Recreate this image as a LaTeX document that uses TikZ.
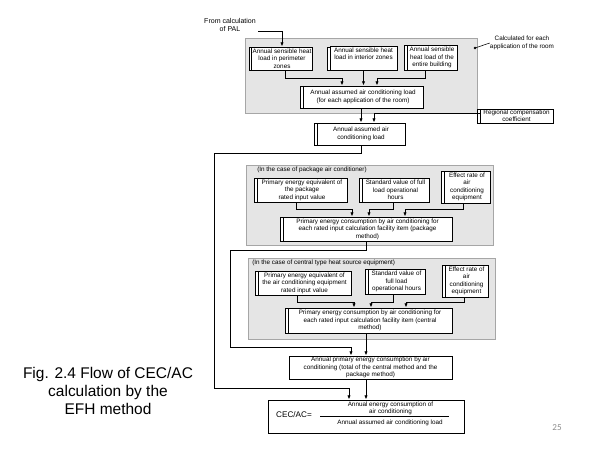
\documentclass[tikz,border=0pt]{standalone}
\usepackage{fontspec}
\setmainfont{Liberation Sans}
\newfontfamily\slidefont{Carlito}
\usetikzlibrary{arrows.meta,shadows}
\def\pxu{0.025cm}
\tikzset{
	box/.style={draw,fill=white,line width=0.7pt,align=center,inner sep=0.5pt,font=\fontsize{4.5}{5.3}\selectfont},
	stackbox/.style={box,copy shadow={shadow xshift=-1.8pt,shadow yshift=0pt,line width=0.6pt}},
	flow/.style={-{Latex[length=3pt,width=2.4pt]},line width=0.6pt},
	region/.style={fill=black!10,draw=black!35,line width=0.6pt,inner sep=0pt},
	note/.style={align=center,inner sep=0pt,font=\fontsize{4.5}{5.3}\selectfont}
}
\begin{document}
\begin{tikzpicture}[x=\pxu,y=-\pxu]
	\useasboundingbox (0,0) rectangle (600,450);
	\node[region,minimum width=232*\pxu,minimum height=75*\pxu] (reg1) at (361,75.5) {};
	\node[region,minimum width=247*\pxu,minimum height=80*\pxu] (reg2) at (369.5,205) {};
	\node[region,minimum width=247*\pxu,minimum height=81*\pxu] (reg3) at (371.5,298.5) {};
	\node[note,font=\fontsize{5}{5.8}\selectfont] (pal) at (230,25) {From calculation\\of PAL};
	\coordinate (palend) at (258,31);
	\node[note] (calcnote) at (522,43) {Calculated for each\\application of the room};
	\coordinate (dot) at (475,48);
	\fill (dot) circle (0.9pt);
	\draw[line width=0.4pt] (dot) -- (calcnote.west);
	\node[stackbox,minimum width=60*\pxu,minimum height=23*\pxu] (b1) at (282,58.5) {Annual sensible heat\\load in perimeter\\zones};
	\node[stackbox,minimum width=67*\pxu,minimum height=23*\pxu] (b2) at (363.5,58.5) {Annual sensible heat\\load in interior zones\\\strut};
	\node[stackbox,minimum width=50*\pxu,minimum height=25*\pxu] (b3) at (432,57.5) {Annual sensible\\heat load of the\\entire building};
	\node[stackbox,minimum width=120*\pxu,minimum height=22*\pxu] (b4) at (363,97) {Annual assumed air conditioning load\\(for each application of the room)};
	\node[stackbox,minimum width=73*\pxu,minimum height=14*\pxu] (regional) at (516.5,116) {Regional compensation\\coefficient};
	\node[stackbox,minimum width=88*\pxu,minimum height=22*\pxu] (b5) at (361,134) {Annual assumed air\\conditioning load};
	\coordinate (spine) at (366,0);
	\draw[flow] (palend) -| (b1.north);
	\draw[flow] ([xshift=3*\pxu]b1.south) -- ++(0,8) -| ([xshift=-21*\pxu]b4.north);
	\draw[flow] (b2.south) -- (b2.south |- b4.north);
	\draw[flow] ([xshift=-7*\pxu]b3.south) -- ++(0,8) -| ([xshift=14*\pxu]b4.north);
	\draw[flow] (b4.south -| b5.north) -- (b5.north);
	\draw[flow] ([yshift=3*\pxu]regional.west) -| ([xshift=13*\pxu]b5.north);
	\node[note,anchor=west] (lbl2) at (257,170) {(In the case of package air conditioner)};
	\node[stackbox,minimum width=90*\pxu,minimum height=24*\pxu] (p1) at (302,190) {Primary energy equivalent of\\the package\\rated input value};
	\node[stackbox,minimum width=67*\pxu,minimum height=24*\pxu] (p2) at (395.5,190) {Standard value of full\\load operational\\hours};
	\node[stackbox,minimum width=46*\pxu,minimum height=32*\pxu] (p3) at (467,187) {Effect rate of\\air\\conditioning\\equipment};
	\node[stackbox,minimum width=169*\pxu,minimum height=24*\pxu] (p4) at (367.5,229) {Primary energy consumption by air conditioning for\\each rated input calculation facility item (package\\method)};
	\draw[flow] ([xshift=-6*\pxu]p1.south) -- ++(0,7) -| ([xshift=-15.5*\pxu]p4.north);
	\draw[flow] ([xshift=-2.5*\pxu]p2.south) -- ++(0,7) -| ([xshift=1.5*\pxu]p4.north);
	\draw[flow] ([xshift=-4*\pxu]p3.south) -- ++(0,6) -| ([xshift=37.5*\pxu]p4.north);
	\node[note,anchor=west] (lbl3) at (252,263) {(In the case of central type heat source equipment)};
	\node[stackbox,minimum width=93*\pxu,minimum height=24*\pxu] (c1) at (304.5,283) {Primary energy equivalent of\\the air conditioning equipment\\rated input value};
	\node[stackbox,minimum width=57*\pxu,minimum height=25*\pxu] (c2) at (396.5,281.5) {Standard value of\\full load\\operational hours};
	\node[stackbox,minimum width=43*\pxu,minimum height=32*\pxu] (c3) at (466.5,281) {Effect rate of\\air\\conditioning\\equipment};
	\node[stackbox,minimum width=164*\pxu,minimum height=25*\pxu] (c4) at (370,320.5) {Primary energy consumption by air conditioning for\\each rated input calculation facility item (central\\method)};
	\draw[flow] ([xshift=-7.5*\pxu]c1.south) -- ++(0,7) -| ([xshift=-16*\pxu]c4.north);
	\draw[flow] ([xshift=-3.5*\pxu]c2.south) -- ++(0,8) -| ([xshift=1*\pxu]c4.north);
	\draw[flow] ([xshift=-2.5*\pxu]c3.south) -- ++(0,5) -| ([xshift=36*\pxu]c4.north);
	\node[box,minimum width=163*\pxu,minimum height=23*\pxu] (f) at (370.5,367.5) {Annual primary energy consumption by air\\conditioning (total of the central method and the\\package method)};
	\node[draw,line width=0.7pt,minimum width=196*\pxu,minimum height=33*\pxu] (cec) at (366,416.5) {};
	\node[note,font=\fontsize{5.8}{6.5}\selectfont] (cecname) at (294,415) {CEC/AC=};
	\node[note] (cecnum) at (390.5,408.5) {Annual energy consumption of\\air conditioning};
	\node[note] (cecden) at (390,423) {Annual assumed air conditioning load};
	\coordinate (fracl) at (320,416);
	\coordinate (fracr) at (449,416);
	\draw[line width=0.6pt] (fracl) -- (fracr);
	\coordinate (lane1) at (214,388);
	\coordinate (lane2) at (230,347);
	\draw[flow] (b5.south) -- ++(0,8) -| (lane1) -| ([xshift=-17*\pxu]cec.north);
	\draw[flow] (p4.south -| spine) -- ++(0,9) -| (lane2) -| ([xshift=-19.5*\pxu]f.north);
	\draw[flow] (c4.south -| spine) -- (f.north -| spine);
	\draw[flow] (f.south -| cec.north) -- (cec.north);
	\node[align=center,font=\fontsize{11}{12.6}\selectfont] (caption) at (108,391) {Fig. 2.4 Flow of CEC/AC\\calculation by the\\EFH method};
	\node[text=black!45,font=\slidefont\fontsize{6.5}{7}\selectfont] (pagenum) at (557,428) {25};
\end{tikzpicture}
\end{document}
